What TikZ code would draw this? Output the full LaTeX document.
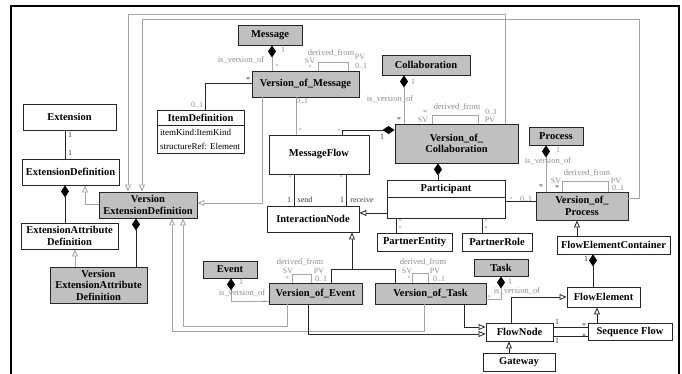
\documentclass[tikz,border=0pt]{standalone}
\usepackage{fontspec}
\setmainfont{Liberation Serif}
\usetikzlibrary{arrows.meta}
\definecolor{gfill}{RGB}{192,192,192}
\definecolor{gline}{RGB}{165,165,165}
\definecolor{gtext}{RGB}{140,140,140}
\definecolor{dtext}{RGB}{60,60,60}
\begin{document}
\begin{tikzpicture}[x=1pt,y=-1pt,
  cls/.style={draw=black!85, line width=0.9pt, fill=white, inner sep=0pt, font=\fontsize{10.5}{11.5}\selectfont\bfseries, align=center},
  gcls/.style={cls, fill=gfill},
  bold/.style={inner sep=0pt, font=\fontsize{10.5}{11.5}\selectfont\bfseries},
  attr/.style={inner sep=0pt, font=\fontsize{9}{14}\selectfont, align=left},
  bl/.style={draw=black!85, line width=0.8pt},
  gl/.style={draw=gline, line width=0.9pt},
  lbl/.style={text=gtext, font=\fontsize{8}{8}\selectfont, inner sep=0pt},
  dlbl/.style={text=dtext, font=\fontsize{8}{8}\selectfont, inner sep=0pt},
  nm/.style={text=gtext, font=\fontsize{8.5}{9}\selectfont, inner sep=0pt},
  st/.style={text=gtext, font=\fontsize{6}{6}\selectfont, inner sep=0pt},
  gen/.style={-{Triangle[open, length=7pt, width=6pt, fill=white]}},
  comp/.style={{Diamond[length=12pt, width=8pt, color=black, fill=black]}-},
]
\useasboundingbox (0,0) rectangle (682,374);
\draw[line width=1.2pt] (11,380) -- (11,6) -- (679,6) -- (679,380);

% nodes
\node[gcls, minimum width=64, minimum height=20] (msg) at (270,35) {Message};
\node[gcls, minimum width=107, minimum height=26] (vom) at (305.5,84) {Version\_of\_Message};
\node[gcls, minimum width=88, minimum height=20] (collab) at (426,65) {Collaboration};
\node[gcls, minimum width=123, minimum height=39] (voc) at (456.5,143.5) {Version\_of\_\\Collaboration};
\node[gcls, minimum width=54, minimum height=18] (proc) at (556,136) {Process};
\node[gcls, minimum width=92, minimum height=28] (vop) at (582,206) {Version\_of\_\\Process};
\node[cls, minimum width=113, minimum height=18] (fec) at (613.5,245) {FlowElementContainer};
\node[cls, minimum width=73, minimum height=20] (fel) at (603.5,297) {FlowElement};
\node[cls, minimum width=84, minimum height=17] (sf) at (630,331.5) {Sequence Flow};
\node[cls, minimum width=67, minimum height=18] (fn) at (519.5,332) {FlowNode};
\node[cls, minimum width=72, minimum height=18] (gw) at (519,362) {Gateway};
\node[gcls, minimum width=54, minimum height=17] (task) at (501,267.5) {Task};
\node[gcls, minimum width=111, minimum height=21] (vot) at (430.5,293.5) {Version\_of\_Task};
\node[gcls, minimum width=93, minimum height=21] (voe) at (315.5,293.5) {Version\_of\_Event};
\node[gcls, minimum width=54, minimum height=17] (event) at (230,269.5) {Event};
\node[cls, minimum width=92, minimum height=26] (inode) at (313,219) {InteractionNode};
\node[cls, minimum width=100, minimum height=39] (mf) at (319,154.5) {MessageFlow};
\node[cls, minimum width=118, minimum height=38] (part) at (446,199) {};
\node[bold] (partname) at (446,188.5) {Participant};
\draw[black!85, line width=0.9pt] (part.west |- 0,197) -- (part.east |- 0,197);
\node[cls, minimum width=75, minimum height=18] (pent) at (414.5,242) {PartnerEntity};
\node[cls, minimum width=70, minimum height=18] (prole) at (497,242) {PartnerRole};
\node[cls, minimum width=93, minimum height=26] (ext) at (69.5,117) {Extension};
\node[cls, minimum width=97, minimum height=26] (extdef) at (70.5,172) {ExtensionDefinition};
\node[gcls, minimum width=98, minimum height=26] (ved) at (148,205) {Version\\ExtensionDefinition};
\node[cls, minimum width=97, minimum height=26] (ead) at (69.5,236) {ExtensionAttribute\\Definition};
\node[gcls, minimum width=97, minimum height=36] (vead) at (98.5,285) {Version\\ExtensionAttribute\\Definition};
\node[cls, minimum width=87, minimum height=43] (itemdef) at (200.5,131.5) {};
\node[bold] (itemdefname) at (200.5,117.5) {ItemDefinition};
\draw[black!85, line width=0.9pt] (itemdef.west |- 0,125) -- (itemdef.east |- 0,125);
\node[attr, anchor=west] (itemattr) at (160,139.5) {itemKind:ItemKind\\structureRef: Element};

% extension part
\draw[bl] (ext.south -| 65,0) -- (extdef.north -| 65,0);
\draw[bl, comp] (extdef.south -| 65,0) -- (ead.north -| 65,0);
\draw[gl, gen] (ved.west |- 0,204) -| (extdef.south -| 85,0);
\draw[gl, gen] (vead.north -| 75,0) -- (ead.south -| 75,0);
\draw[bl, comp] (ved.south -| 136,0) -- (vead.north -| 136,0);
\draw[gl, gen] (voc.north -| 505,0) -- (505,14) -| (ved.north -| 128,0);
\draw[gl, gen] (vop.east |- 0,198) -| (639,19) -| (ved.north -| 142,0);
\draw[gl, gen] (vom.south -| 262,0) |- (ved.east |- 0,203);
\draw[gl, gen] (vot.south -| 424,0) |- (172,331) -- (ved.south -| 172,0);
\draw[gl, gen] (voe.south -| 287,0) |- (183,326) -- (ved.south -| 183,0);

% message
\draw[gl, comp] (msg.south -| 272,0) -- (vom.north -| 272,0);
\draw[gl] (vom.north -| 318,0) |- (348,62) -- (vom.north -| 348,0);
\draw[bl] (vom.west |- 0,83) -| (itemdef.north -| 205,0);
\draw[gl] (vom.south -| 296,0) -- (mf.north -| 296,0);

% collaboration
\draw[gl, comp] (collab.south -| 404,0) -- (voc.north -| 404,0);
\draw[bl, comp] (voc.west |- 0,130) -| (mf.north -| 342,0);
\draw[gl] (voc.north -| 432,0) |- (478,115) -- (voc.north -| 478,0);
\draw[bl, comp] (voc.south -| 438,0) -- (part.north -| 438,0);

% message flow
\draw[bl] (mf.south -| 294,0) -- (inode.north -| 294,0);
\draw[bl] (mf.south -| 346,0) -- (inode.north -| 346,0);

% participant
\draw[bl, gen] (part.west |- 0,213) -- (inode.east |- 0,213);
\draw[bl] (part.south -| 396,0) -- (pent.north -| 396,0);
\draw[bl] (part.south -| 482,0) -- (prole.north -| 482,0);
\draw[bl] (part.east |- 0,201) -- (vop.west |- 0,201);

% process
\draw[gl, comp] (proc.south -| 546,0) -- (vop.north -| 546,0);
\draw[gl] (vop.north -| 562,0) |- (608,181) -- (vop.north -| 608,0);
\draw[bl, gen] (fec.north -| 577,0) -- (vop.south -| 577,0);
\draw[bl, comp] (fec.south -| 593,0) -- (fel.north -| 593,0);
\draw[bl, gen] (sf.north -| 597,0) -- (fel.south -| 597,0);
\draw[bl, gen] (fn.north -| 511,0) |- (fel.west |- 0,297);
\draw[bl] (fn.east |- 0,327) -- (sf.west |- 0,327);
\draw[bl] (fn.east |- 0,336) -- (sf.west |- 0,336);
\draw[bl, gen] (gw.north -| 509,0) -- (fn.south -| 509,0);

% task / event
\draw[gl, comp] (task.south -| 501,0) |- (vot.east |- 0,299);
\draw[gl] (vot.north -| 412,0) |- (428,273) -- (vot.north -| 428,0);
\draw[gl] (voe.north -| 292,0) |- (311,274) -- (voe.north -| 311,0);
\draw[gl, comp] (event.south -| 231,0) |- (voe.west |- 0,301);
\coordinate (jn) at (352,269);
\draw[bl, gen] (voe.north -| 331,0) |- (jn) -- (inode.south -| 352,0);
\draw[bl] (vot.north -| 395,0) |- (jn);
\draw[bl, gen] (vot.south -| 464,0) |- (fn.west |- 0,327);
\draw[bl, gen] (voe.south -| 308,0) |- (fn.west |- 0,334);

% labels: extension
\node[dlbl] (l1) at (70,135) {1};
\node[dlbl] (l2) at (70,153) {1};
% message
\node[lbl] (l3) at (283,50) {1};
\node[nm] (l4) at (241,60) {is\_version\_of};
\node[st] (l5) at (277,67) {*};
\node[nm] (l6) at (331,53) {derived\_from};
\node[lbl] (l7) at (310,61) {SV};
\node[st] (l8) at (310,68) {*};
\node[lbl] (l9) at (360,57) {PV};
\node[lbl] (l10) at (361,66) {0..1};
\node[dlbl] (l11) at (248,80) {*};
\node[lbl] (l12) at (197,105) {0..1};
\node[lbl] (l13) at (302,101) {0..1};
\node[st] (l14) at (300,131) {*};
% collaboration
\node[lbl] (l15) at (413,82) {1};
\node[nm] (l16) at (390,99) {is\_version\_of};
\node[dlbl] (l17) at (399,120) {*};
\node[dlbl] (l18) at (382,137) {1};
\node[st] (l19) at (339,132) {*};
\node[nm] (l20) at (457,107) {derived\_from};
\node[lbl] (l21) at (425,113) {*};
\node[lbl] (l22) at (423,120) {SV};
\node[lbl] (l23) at (491,112) {0..1};
\node[lbl] (l24) at (490,120) {PV};
% message flow ends
\node[st] (l25) at (290,178) {*};
\node[st] (l26) at (341,178) {*};
\node[dlbl] (l27) at (289,200) {1};
\node[dlbl] (l28) at (305,200) {send};
\node[dlbl] (l29) at (342,200) {1};
\node[dlbl] (l30) at (362,200) {receive};
% participant ends
\node[st] (l31) at (400,222) {*};
\node[st] (l32) at (400,229) {*};
\node[st] (l33) at (486,222) {*};
\node[st] (l34) at (486,229) {*};
\node[st] (l35) at (511,200) {*};
\node[lbl] (l36) at (526,199) {0..1};
% process
\node[lbl] (l37) at (558,150) {1};
\node[nm] (l38) at (548,161) {is\_version\_of};
\node[dlbl] (l39) at (541,187) {*};
\node[nm] (l40) at (587,173) {derived\_from};
\node[lbl] (l41) at (556,181) {SV};
\node[dlbl] (l42) at (557,188) {*};
\node[lbl] (l43) at (616,181) {PV};
\node[lbl] (l44) at (618,188) {0..1};
\node[dlbl] (l45) at (586,259) {1};
\node[dlbl] (l46) at (557,322) {1};
\node[dlbl] (l47) at (557,341) {1};
\node[dlbl] (l48) at (584,326) {*};
\node[dlbl] (l49) at (584,337) {*};
% task
\node[lbl] (l50) at (510,282) {1};
\node[nm] (l51) at (517,291) {is\_version\_of};
\node[st] (l52) at (489,298) {*};
\node[nm] (l53) at (423,262) {derived\_from};
\node[lbl] (l54) at (407,271) {SV};
\node[st] (l55) at (409,279) {*};
\node[lbl] (l56) at (435,271) {PV};
\node[lbl] (l57) at (439,279) {0..1};
% event
\node[lbl] (l58) at (241,282) {1};
\node[nm] (l59) at (242,293) {is\_version\_of};
\node[st] (l60) at (264,303) {*};
\node[nm] (l61) at (300,262) {derived\_from};
\node[lbl] (l62) at (288,271) {SV};
\node[st] (l63) at (287,279) {*};
\node[lbl] (l64) at (319,271) {PV};
\node[lbl] (l65) at (321,279) {0..1};
\end{tikzpicture}
\end{document}
